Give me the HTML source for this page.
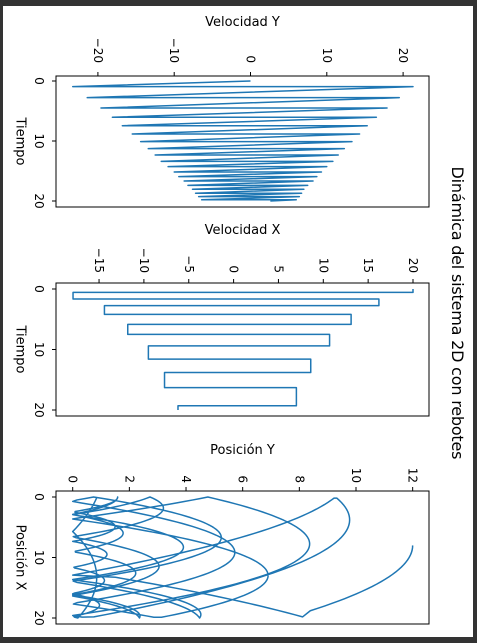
<!DOCTYPE html>
<html><head><meta charset="utf-8"><style>
html,body{margin:0;padding:0;background:#333;}
svg{display:block;font-family:"DejaVu Sans","Liberation Sans",sans-serif;}
</style></head><body>
<svg id="fig" width="477" height="643" viewBox="0 0 477 643">
<rect x="3" y="6" width="470" height="631" fill="#fff"/>
<text x="452" y="313" font-size="16" text-anchor="middle" transform="rotate(90,452,313)" textLength="293">Dinámica del sistema 2D con rebotes</text>
</svg>
<script>
// Velocidad Y: bounce events (time, velocity before, velocity after)
const vyStart = 0;
const bounceT = [0.94,2.78,4.5,6.05,7.45,8.83,10.1,11.28,12.33,13.4,14.28,15.17,15.94,16.67,17.4,18.05,18.7,19.27,19.8];
const vyBefore = [-23.3,-21.4,-19.6,-18.1,-16.8,-15.5,-14.4,-13.4,-12.5,-11.7,-10.8,-10.0,-9.4,-8.7,-8.2,-7.6,-7.2,-6.8,-6.4];
const vyAfter = [21.3,19.5,17.9,16.5,15.3,14.3,13.3,12.3,11.5,10.8,10.0,9.3,8.7,8.2,7.5,7.0,6.7,6.4,6.0];
const vyEnd = 2.6;
// Velocidad X: wall hit times and constant velocity per segment
const wallT = [0,0.55,1.65,2.75,4.2,5.85,7.5,9.4,11.6,13.8,16.3,19.3,20];
const vxSeg = [20,-17.9,16.2,-14.4,13.1,-11.8,10.7,-9.5,8.6,-7.7,7.0,-6.2];
const x0 = 8, y0 = 12, tEnd = 20;
const velYTicks = [-20,-10,0,10,20];
const velXTicks = [-15,-10,-5,0,5,10,15,20];
const posYTicks = [0,2,4,6,8,10,12];
const timeTicks = [0,10,20];

const NS = "http://www.w3.org/2000/svg";
const svg = document.getElementById('fig');
const C = '#1f77b4';
function mk(tag, attrs, parent){const e=document.createElementNS(NS,tag);for(const k in attrs)e.setAttribute(k,attrs[k]);(parent||svg).appendChild(e);return e;}

// series construction
const vyPts = [[0,vyStart]];
bounceT.forEach((t,i)=>{vyPts.push([t,vyBefore[i]]);vyPts.push([t,vyAfter[i]]);});
vyPts.push([tEnd,vyEnd]);
const vxPts = [];
vxSeg.forEach((v,i)=>{vxPts.push([wallT[i],v]);vxPts.push([wallT[i+1],v]);});
function vyAt(t){for(let i=0;i<vyPts.length-1;i++){const a=vyPts[i],b=vyPts[i+1];if(t>=a[0]&&t<=b[0]&&b[0]>a[0])return a[1]+(b[1]-a[1])*(t-a[0])/(b[0]-a[0]);}return vyEnd;}
function posY(t){let start=0,base=y0;for(const bt of bounceT){if(t>=bt){start=bt;base=0;}}
 let s=0;const n=40;for(let k=0;k<n;k++){const ta=start+(t-start)*k/n,tb=start+(t-start)*(k+1)/n;s+=(vyAt(ta+1e-9)+vyAt(tb-1e-9))/2*(tb-ta);}return Math.max(0,base+s);}
function posX(t){for(let i=0;i<vxSeg.length;i++){if(t<=wallT[i+1]){const s=i===0?x0:(vxSeg[i]>0?0:20);const e=vxSeg[i]>0?20:0;const f=i===0?x0+vxSeg[0]*(t-wallT[0]):s+(e-s)*(t-wallT[i])/(wallT[i+1]-wallT[i]);return Math.min(20,Math.max(0,f));}}return 0;}
const trajPts=[];for(let t=0;t<=tEnd+1e-9;t+=0.02)trajPts.push([posY(t),posX(t)]);

function panel(o){
 const g=mk('g',{});
 
 
 const X=v=>o.hx0+(v-o.hv0)*o.hs, Y=v=>o.vy0+(v-o.vv0)*o.vs;
 const d=o.pts.map((p,i)=>(i?'L':'M')+X(p[0]).toFixed(2)+','+Y(p[1]).toFixed(2)).join('');
 const ln=mk('path',{d:d,fill:'none',stroke:C,'stroke-width':1.5,'stroke-linejoin':'round'},g);
 
 
 const fr=mk('rect',{x:o.l,y:o.t,width:o.r-o.l,height:o.b-o.t,fill:'none',stroke:'#000','stroke-width':1},g);
 
 
 o.hticks.forEach(v=>{const x=X(v);
  mk('line',{x1:x,x2:x,y1:o.t,y2:o.t-4,stroke:'#000'},g);
  const tx=mk('text',{x:x,y:o.t-o.pad,'font-size':12,'text-anchor':'end','dominant-baseline':'central',transform:`rotate(90,${x},${o.t-o.pad})`},g);
  tx.textContent=(v<0?'\u2212'+(-v):''+v);
  
  });
 timeTicks.forEach(v=>{const y=Y(v);
  mk('line',{x1:o.l,x2:o.l-4,y1:y,y2:y,stroke:'#000'},g);
  const tx=mk('text',{x:39,y:y,'font-size':12,'text-anchor':'middle','dominant-baseline':'central',transform:`rotate(90,39,${y})`},g);
  tx.textContent=''+v;
  
  });
 const hl=mk('text',{x:(o.l+o.r)/2,y:o.hly,'font-size':13,'text-anchor':'middle'},g);
 hl.textContent=o.hlabel;
 
 
 const cy=(o.t+o.b)/2;
 const vl=mk('text',{x:20,y:cy,'font-size':13,'text-anchor':'middle','dominant-baseline':'central',transform:`rotate(90,20,${cy})`},g);
 vl.textContent=o.vlabel;
 
 
}
panel({name:'velocity-y-panel',pts:vyPts.map(p=>[p[1],p[0]]),l:56,r:429,t:76,b:207,hx0:250.5,hv0:0,hs:7.63,vy0:81,vv0:0,vs:6.0,hticks:velYTicks,pad:13,hly:26,hlabel:'Velocidad Y',vlabel:'Tiempo'});
panel({name:'velocity-x-panel',pts:vxPts.map(p=>[p[1],p[0]]),l:56,r:429,t:283,b:416,hx0:233.6,hv0:0,hs:8.97,vy0:289,vv0:0,vs:6.05,hticks:velXTicks,pad:10,hly:234,hlabel:'Velocidad X',vlabel:'Tiempo'});
panel({name:'position-panel',pts:trajPts,l:56,r:429,t:491,b:624,hx0:72.7,hv0:0,hs:28.33,vy0:497,vv0:0,vs:6.05,hticks:posYTicks,pad:8,hly:454,hlabel:'Posición Y',vlabel:'Posición X'});
</script>
</body></html>
